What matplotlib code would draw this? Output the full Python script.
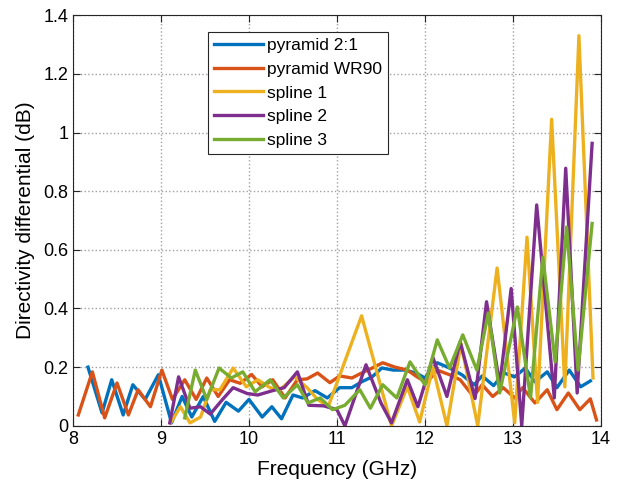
import numpy as np
import matplotlib
matplotlib.use('Agg')
import matplotlib.pyplot as plt

plt.rcParams['font.family'] = ['Liberation Sans', 'DejaVu Sans']

# pyramid 2:1
f_p21 = [8.17, 8.33, 8.44, 8.57, 8.68, 8.82, 8.97, 9.12, 9.24, 9.35, 9.48, 9.61, 9.74, 9.88,
         10.0, 10.15, 10.26, 10.37, 10.5, 10.61, 10.75, 10.89, 11.03, 11.17, 11.28, 11.4,
         11.51, 11.64, 11.77, 11.9, 12.0, 12.14, 12.28, 12.42, 12.56, 12.65, 12.78, 12.9,
         13.02, 13.14, 13.25, 13.39, 13.5, 13.64, 13.77, 13.88]
d_p21 = [0.20, 0.044, 0.157, 0.037, 0.14, 0.09, 0.174, 0.01, 0.10, 0.03, 0.10, 0.015, 0.08, 0.05,
         0.09, 0.03, 0.065, 0.024, 0.105, 0.095, 0.12, 0.095, 0.13, 0.13, 0.15, 0.167,
         0.197, 0.19, 0.19, 0.18, 0.163, 0.215, 0.197, 0.174, 0.14, 0.17, 0.137, 0.18,
         0.167, 0.197, 0.15, 0.184, 0.13, 0.19, 0.133, 0.153]

# pyramid WR90
f_wr90 = [8.06, 8.22, 8.36, 8.5, 8.63, 8.74, 8.88, 9.01, 9.13, 9.27, 9.4, 9.52, 9.65, 9.78,
          9.9, 10.03, 10.15, 10.27, 10.41, 10.55, 10.66, 10.78, 10.92, 11.03, 11.17, 11.28,
          11.4, 11.52, 11.66, 11.8, 11.91, 12.02, 12.14, 12.28, 12.4, 12.55, 12.65, 12.77,
          12.89, 13.02, 13.11, 13.25, 13.39, 13.5, 13.63, 13.76, 13.88, 13.95]
d_wr90 = [0.037, 0.184, 0.027, 0.146, 0.037, 0.123, 0.065, 0.19, 0.09, 0.157, 0.09, 0.163, 0.1, 0.157,
          0.145, 0.175, 0.133, 0.157, 0.095, 0.157, 0.16, 0.18, 0.147, 0.17, 0.163, 0.18,
          0.197, 0.215, 0.2, 0.19, 0.167, 0.147, 0.19, 0.174, 0.157, 0.1, 0.14, 0.1,
          0.13, 0.095, 0.13, 0.078, 0.123, 0.055, 0.112, 0.055, 0.092, 0.02]

# spline 1
f_s1 = [9.11, 9.22, 9.33, 9.45, 9.56, 9.67, 9.82, 9.97, 10.1, 10.24, 10.35, 10.52, 10.66,
        10.78, 10.9, 11.28, 11.62, 11.8, 11.94, 12.09, 12.25, 12.41, 12.6, 12.82, 13.02,
        13.16, 13.28, 13.44, 13.59, 13.75, 13.91]
d_s1 = [0.01, 0.065, 0.01, 0.03, 0.123, 0.123, 0.197, 0.133, 0.157, 0.13, 0.123, 0.167, 0.13,
        0.09, 0.065, 0.375, 0.0, 0.133, 0.013, 0.2, 0.0, 0.28, 0.0, 0.538, 0.01,
        0.643, 0.08, 1.045, 0.133, 1.33, 0.163]

# spline 2
f_s2 = [9.1, 9.2, 9.33, 9.45, 9.56, 9.7, 9.82, 9.98, 10.1, 10.27, 10.4, 10.55, 10.68, 10.85,
        11.0, 11.09, 11.33, 11.5, 11.62, 11.8, 11.92, 12.09, 12.25, 12.4, 12.57, 12.7,
        12.85, 12.98, 13.1, 13.27, 13.47, 13.6, 13.73, 13.9]
d_s2 = [0.01, 0.167, 0.06, 0.065, 0.04, 0.09, 0.13, 0.11, 0.105, 0.12, 0.13, 0.184, 0.07, 0.068,
        0.055, 0.0, 0.208, 0.078, 0.01, 0.157, 0.065, 0.233, 0.1, 0.286, 0.093, 0.423,
        0.14, 0.468, 0.0, 0.753, 0.095, 0.878, 0.112, 0.963]

# spline 3
f_s3 = [9.27, 9.39, 9.52, 9.66, 9.8, 9.93, 10.07, 10.24, 10.39, 10.55, 10.67, 10.81, 10.95,
        11.09, 11.26, 11.38, 11.52, 11.68, 11.83, 12.0, 12.14, 12.28, 12.43, 12.59, 12.72,
        12.85, 13.05, 13.2, 13.34, 13.48, 13.61, 13.74, 13.9]
d_s3 = [0.027, 0.19, 0.09, 0.197, 0.163, 0.184, 0.116, 0.157, 0.095, 0.14, 0.078, 0.095, 0.055,
        0.07, 0.123, 0.06, 0.14, 0.095, 0.218, 0.14, 0.293, 0.197, 0.31, 0.19, 0.385,
        0.112, 0.405, 0.095, 0.575, 0.218, 0.678, 0.19, 0.69]

labels = ['pyramid 2:1', 'pyramid WR90', 'spline 1', 'spline 2', 'spline 3']
colors = ['#0072BD', '#D95319', '#EDB120', '#7E2F8E', '#77AC30']
series = [(f_p21, d_p21), (f_wr90, d_wr90), (f_s1, d_s1), (f_s2, d_s2), (f_s3, d_s3)]

fig = plt.figure(figsize=(6.24, 4.9), dpi=100)
ax = fig.add_axes([0.117, 0.131, 0.846, 0.838])

for (f, d), lab, c in zip(series, labels, colors):
    ax.plot(f, d, color=c, lw=2.4, label=lab)

ax.set_xlim(8, 14)
ax.set_ylim(0, 1.4)
ax.set_xticks(np.arange(8, 15, 1))
ax.set_yticks(np.arange(0, 1.41, 0.2))
ax.set_yticklabels(['0', '0.2', '0.4', '0.6', '0.8', '1', '1.2', '1.4'])
ax.grid(True, ls=':', color='#a0a0a0', lw=1)
ax.tick_params(direction='in', top=True, right=True, labelsize=13, length=5, color='#262626')
for s in ax.spines.values():
    s.set_color('#262626')
ax.set_xlabel('Frequency (GHz)', fontsize=15, labelpad=9)
ax.set_ylabel('Directivity differential (dB)', fontsize=15, labelpad=6)

leg = ax.legend(loc='upper left', bbox_to_anchor=(0.256, 0.96), fontsize=12.5,
                fancybox=False, edgecolor='#262626', framealpha=1,
                handlelength=2.8, handletextpad=0.25, labelspacing=0.5,
                borderpad=0.35, borderaxespad=0)
leg.get_frame().set_linewidth(0.8)

fig.savefig('out.png', dpi=100)
